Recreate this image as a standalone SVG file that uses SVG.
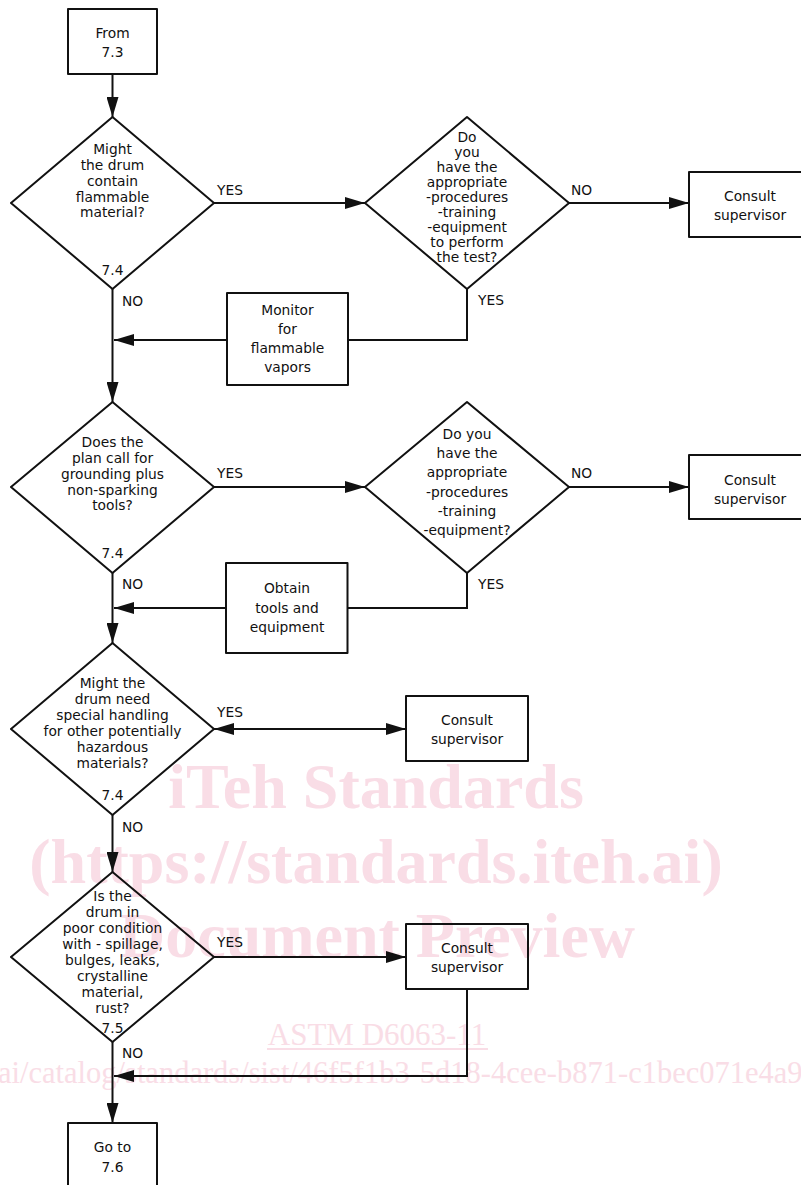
<svg xmlns="http://www.w3.org/2000/svg" width="801" height="1185" viewBox="0 0 801 1185">
<style>
.wm{fill:#f9dde6;font-family:"Liberation Serif",serif;}
.wmb{font-weight:bold;font-size:64px;}
.shape{fill:none;stroke:#111;stroke-width:2;stroke-linejoin:round;}
.t{font-family:"DejaVu Sans",Verdana,sans-serif;font-size:13.8px;fill:#111;text-anchor:middle;}
.lbl{font-family:"DejaVu Sans",Verdana,sans-serif;font-size:13.8px;fill:#111;}
.c{fill:none;stroke:#111;stroke-width:2;}
</style>
<defs>
<marker id="ah" markerUnits="userSpaceOnUse" markerWidth="20" markerHeight="12" refX="20" refY="6" orient="auto-start-reverse">
<path d="M0,0 L20,6 L0,12 z" fill="#111"/>
</marker>
</defs>
<rect width="801" height="1185" fill="#fff"/>
<g id="watermark">
<text class="wm wmb" x="376" y="808" text-anchor="middle">iTeh Standards</text>
<text class="wm wmb" x="376" y="883" text-anchor="middle">(https://standards.iteh.ai)</text>
<text class="wm wmb" x="377" y="957" text-anchor="middle">Document Preview</text>
<text class="wm" x="377" y="1045" font-size="31" text-anchor="middle">ASTM D6063-11</text>
<line x1="267" y1="1049" x2="488" y2="1049" stroke="#f9dde6" stroke-width="2"/>
<text class="wm" x="-2" y="1083" font-size="30.5">ai/catalog/standards/sist/46f5f1b3-5d18-4cee-b871-c1bec071e4a9</text>
</g>
<g id="connectors">
<path class="c" d="M112.5,74 V117" marker-end="url(#ah)"/>
<path class="c" d="M214,203 H365" marker-end="url(#ah)"/>
<path class="c" d="M569,203 H689" marker-end="url(#ah)"/>
<path class="c" d="M467,289 V340 H348"/>
<path class="c" d="M227,340 H114" marker-end="url(#ah)"/>
<path class="c" d="M112.5,289 V402" marker-end="url(#ah)"/>
<path class="c" d="M214,487 H365" marker-end="url(#ah)"/>
<path class="c" d="M569,487 H689" marker-end="url(#ah)"/>
<path class="c" d="M467,573 V608 H347"/>
<path class="c" d="M226,608 H114" marker-end="url(#ah)"/>
<path class="c" d="M112.5,573 V643" marker-end="url(#ah)"/>
<path class="c" d="M214,729 H406" marker-start="url(#ah)" marker-end="url(#ah)"/>
<path class="c" d="M112.5,815 V872" marker-end="url(#ah)"/>
<path class="c" d="M214,957 H406" marker-end="url(#ah)"/>
<path class="c" d="M467,989 V1076 H114" marker-end="url(#ah)"/>
<path class="c" d="M112.5,1042 V1123" marker-end="url(#ah)"/>
<text class="lbl" x="217" y="195">YES</text>
<text class="lbl" x="571" y="195">NO</text>
<text class="lbl" x="478" y="305">YES</text>
<text class="lbl" x="122" y="306">NO</text>
<text class="lbl" x="217" y="478">YES</text>
<text class="lbl" x="571" y="478">NO</text>
<text class="lbl" x="478" y="589">YES</text>
<text class="lbl" x="122" y="589">NO</text>
<text class="lbl" x="217" y="717">YES</text>
<text class="lbl" x="122" y="832">NO</text>
<text class="lbl" x="217" y="947">YES</text>
<text class="lbl" x="122" y="1058">NO</text>
</g>
<g id="from">
<rect class="shape" x="68" y="9" width="89" height="65"/>
<text class="t" x="112.5" y="38">From</text>
<text class="t" x="112.5" y="57">7.3</text>
</g>
<g id="d1">
<polygon class="shape" points="112.5,117 214,203 112.5,289 11,203"/>
<text class="t" x="112.5" y="154">Might</text>
<text class="t" x="112.5" y="170">the drum</text>
<text class="t" x="112.5" y="186">contain</text>
<text class="t" x="112.5" y="202">flammable</text>
<text class="t" x="112.5" y="217">material?</text>
<text class="t" x="112.5" y="275">7.4</text>
</g>
<g id="d2">
<polygon class="shape" points="467,117 569,203 467,289 365,203"/>
<text class="t" x="467" y="141.5">Do</text>
<text class="t" x="467" y="156.5">you</text>
<text class="t" x="467" y="171.5">have the</text>
<text class="t" x="467" y="186.5">appropriate</text>
<text class="t" x="467" y="201.5">-procedures</text>
<text class="t" x="467" y="216.5">-training</text>
<text class="t" x="467" y="231.5">-equipment</text>
<text class="t" x="467" y="246.5">to perform</text>
<text class="t" x="467" y="261.5">the test?</text>
</g>
<g id="consult1">
<rect class="shape" x="689" y="172" width="122" height="65"/>
<text class="t" x="750" y="201">Consult</text>
<text class="t" x="750" y="220">supervisor</text>
</g>
<g id="monitor">
<rect class="shape" x="227" y="293" width="121" height="92"/>
<text class="t" x="287.5" y="315">Monitor</text>
<text class="t" x="287.5" y="334">for</text>
<text class="t" x="287.5" y="353">flammable</text>
<text class="t" x="287.5" y="372">vapors</text>
</g>
<g id="d3">
<polygon class="shape" points="112.5,402 214,487 112.5,573 11,487"/>
<text class="t" x="112.5" y="447">Does the</text>
<text class="t" x="112.5" y="463">plan call for</text>
<text class="t" x="112.5" y="478.5">grounding plus</text>
<text class="t" x="112.5" y="494.5">non-sparking</text>
<text class="t" x="112.5" y="510">tools?</text>
<text class="t" x="112.5" y="558">7.4</text>
</g>
<g id="d4">
<polygon class="shape" points="467,402 569,487 467,573 365,487"/>
<text class="t" x="467" y="439">Do you</text>
<text class="t" x="467" y="458">have the</text>
<text class="t" x="467" y="477">appropriate</text>
<text class="t" x="467" y="496.5">-procedures</text>
<text class="t" x="467" y="516">-training</text>
<text class="t" x="467" y="535">-equipment?</text>
</g>
<g id="consult2">
<rect class="shape" x="689" y="455" width="122" height="64"/>
<text class="t" x="750" y="485">Consult</text>
<text class="t" x="750" y="504">supervisor</text>
</g>
<g id="obtain">
<rect class="shape" x="226" y="563" width="121.5" height="90"/>
<text class="t" x="287" y="593">Obtain</text>
<text class="t" x="287" y="613">tools and</text>
<text class="t" x="287" y="632">equipment</text>
</g>
<g id="d5">
<polygon class="shape" points="112.5,643 214,729 112.5,815 11,729"/>
<text class="t" x="112.5" y="688">Might the</text>
<text class="t" x="112.5" y="704">drum need</text>
<text class="t" x="112.5" y="720">special handling</text>
<text class="t" x="112.5" y="736">for other potentially</text>
<text class="t" x="112.5" y="752">hazardous</text>
<text class="t" x="112.5" y="768">materials?</text>
<text class="t" x="112.5" y="800">7.4</text>
</g>
<g id="consult3">
<rect class="shape" x="406" y="696" width="122" height="65"/>
<text class="t" x="467" y="725">Consult</text>
<text class="t" x="467" y="744">supervisor</text>
</g>
<g id="d6">
<polygon class="shape" points="112.5,872 214,957 112.5,1042 11,957"/>
<text class="t" x="112.5" y="901">Is the</text>
<text class="t" x="112.5" y="917">drum in</text>
<text class="t" x="112.5" y="933">poor condition</text>
<text class="t" x="112.5" y="949">with - spillage,</text>
<text class="t" x="112.5" y="965">bulges, leaks,</text>
<text class="t" x="112.5" y="981">crystalline</text>
<text class="t" x="112.5" y="997">material,</text>
<text class="t" x="112.5" y="1013">rust?</text>
<text class="t" x="112.5" y="1033">7.5</text>
</g>
<g id="consult4">
<rect class="shape" x="406" y="924" width="122" height="65"/>
<text class="t" x="467" y="953">Consult</text>
<text class="t" x="467" y="972">supervisor</text>
</g>
<g id="goto">
<rect class="shape" x="68" y="1123" width="89" height="72"/>
<text class="t" x="112.5" y="1152">Go to</text>
<text class="t" x="112.5" y="1172">7.6</text>
</g>
</svg>
